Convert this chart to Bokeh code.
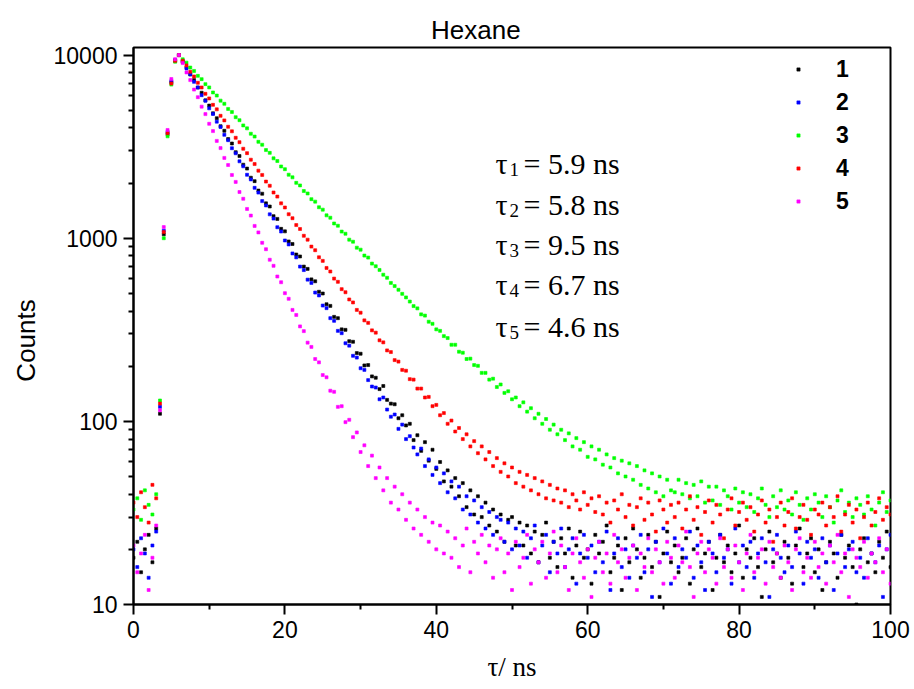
import numpy as np
from bokeh.plotting import figure
from bokeh.models import (FixedTicker, PrintfTickFormatter, Legend, LegendItem,
                          Label, Range1d)
from bokeh.embed import file_html
from bokeh.resources import INLINE

# ---------------- data ----------------
# detector channels, 0.5 ns apart, 0 .. 100 ns
time_ns = np.arange(0, 100.001, 0.5)

counts_1 = [18, 22, 15, 20, 24, 17, 26,
            110, 1050, 3700, 7100, 9300, 10000,
            9190, 8570, 7840, 7300, 6650, 6230, 5660, 5300, 4810, 4520,
            4090, 3860, 3480, 3290, 2950, 2810, 2520, 2400, 2140, 2050,
            1820, 1750, 1550, 1490, 1320, 1275, 1125, 1090, 960, 930,
            815, 795, 700, 680, 596, 582, 510, 499, 436, 427,
            372, 366, 318, 316, 274, 272, 236, 234, 202, 203,
            176, 173, 150, 156, 131, 125, 124, 104, 108, 95,
            97, 79, 84, 69, 77, 61, 70, 55, 60, 47,
            54, 44, 49, 39, 46, 34, 42, 31, 39, 30,
            36, 27, 33, 25, 31, 22, 29, 30, 21, 28,
            21, 27, 19, 25, 17, 24, 28, 18, 22, 16,
            23, 19, 26, 14, 21, 25, 18, 20, 13, 24,
            19, 22, 27, 15, 18, 21, 12, 23, 17, 26,
            20, 14, 18, 24, 16, 22, 11, 19, 25, 17,
            21, 15, 18, 23, 13, 20, 26, 16, 19, 22,
            12, 18, 24, 17, 21, 15, 19, 27, 14, 20,
            18, 23, 16, 11, 20, 25, 17, 19, 14, 22,
            18, 13, 21, 26, 16, 19, 23, 15, 20, 12,
            17, 22, 19, 14, 24, 18, 21, 16, 10, 20,
            23, 17, 19, 15, 22, 18, 25, 16]

counts_2 = [20, 16, 23, 19, 14, 21, 25,
            120, 1100, 3800, 7200, 9400, 10000,
            9260, 8440, 7850, 7140, 6650, 6040, 5630, 5120, 4770, 4330,
            4050, 3670, 3430, 3100, 2910, 2630, 2470, 2220, 2095, 1885,
            1775, 1595, 1510, 1350, 1280, 1148, 1088, 972, 925, 826,
            786, 700, 670, 594, 570, 505, 487, 429, 415, 366,
            354, 312, 303, 267, 259, 228, 223, 195, 191, 168,
            155, 153, 132, 135, 116, 106, 109, 91, 96, 80,
            83, 72, 66, 71, 57, 62, 51, 56, 46, 52,
            41, 47, 38, 44, 33, 39, 31, 37, 28, 34,
            26, 32, 24, 30, 29, 22, 28, 20, 26, 21,
            25, 18, 23, 27, 17, 21, 24, 15, 22, 19,
            26, 16, 20, 23, 13, 19, 24, 18, 21, 15,
            22, 17, 25, 12, 19, 23, 16, 20, 14, 21,
            18, 24, 15, 20, 11, 22, 17, 26, 19, 13,
            23, 16, 20, 18, 25, 14, 21, 17, 12, 22,
            19, 15, 24, 18, 20, 13, 26, 17, 21, 16,
            22, 14, 19, 23, 17, 11, 20, 24, 18, 15,
            21, 16, 25, 19, 13, 22, 18, 20, 14, 23,
            17, 21, 12, 19, 24, 16, 20, 22, 15, 18,
            14, 23, 19, 17, 21, 11, 20, 24]

counts_3 = [33, 38, 29, 42, 35, 31, 40,
            130, 1000, 3600, 6900, 9200, 10000,
            9480, 9090, 8550, 8190, 7700, 7390, 6940, 6660, 6250, 6010,
            5640, 5420, 5080, 4890, 4580, 4410, 4130, 3980, 3720, 3590,
            3360, 3240, 3030, 2925, 2730, 2640, 2465, 2382, 2222, 2150,
            2006, 1942, 1810, 1755, 1634, 1584, 1476, 1432, 1333, 1294,
            1204, 1170, 1087, 1058, 982, 957, 888, 866, 804, 784,
            727, 703, 671, 632, 608, 570, 548, 523, 497, 475,
            451, 426, 414, 384, 378, 350, 341, 318, 312, 292,
            285, 262, 262, 240, 237, 219, 220, 203, 201, 184,
            184, 169, 171, 154, 159, 143, 146, 132, 135, 121,
            127, 113, 118, 104, 110, 97, 103, 90, 96, 85,
            90, 79, 86, 73, 81, 70, 77, 64, 73, 62,
            70, 58, 66, 56, 63, 52, 61, 50, 59, 48,
            57, 45, 54, 43, 52, 41, 50, 39, 48, 42,
            41, 48, 40, 46, 38, 45, 39, 47, 36, 44,
            37, 44, 35, 42, 39, 33, 43, 36, 41, 34,
            40, 32, 38, 43, 35, 30, 39, 34, 42, 33,
            37, 31, 41, 35, 29, 38, 33, 40, 36, 30,
            39, 34, 28, 37, 42, 32, 36, 30, 38, 35,
            31, 39, 33, 27, 36, 41, 32, 37]

counts_4 = [36, 30, 41, 34, 28, 45, 38,
            125, 1080, 3750, 7000, 9300, 10000,
            9310, 8780, 8110, 7640, 7060, 6655, 6145, 5800, 5350, 5055,
            4660, 4400, 4060, 3835, 3535, 3345, 3080, 2915, 2684, 2541,
            2338, 2216, 2038, 1934, 1777, 1688, 1550, 1472, 1352, 1286,
            1180, 1123, 1031, 982, 900, 860, 787, 752, 688, 658,
            602, 578, 527, 507, 463, 446, 406, 392, 356, 345,
            314, 305, 277, 270, 244, 239, 216, 212, 191, 189,
            170, 169, 151, 151, 135, 136, 121, 123, 108, 111,
            97, 101, 88, 92, 80, 85, 73, 78, 67, 73,
            62, 68, 57, 63, 53, 59, 50, 56, 46, 53,
            44, 51, 42, 49, 40, 47, 38, 45, 37, 43,
            36, 42, 34, 40, 37, 33, 41, 35, 38, 32,
            39, 31, 36, 28, 37, 33, 40, 30, 35, 27,
            34, 38, 29, 36, 31, 25, 37, 33, 28, 35,
            30, 36, 26, 33, 39, 29, 34, 24, 32, 37,
            28, 35, 31, 23, 33, 38, 27, 32, 36, 29,
            34, 25, 31, 37, 28, 33, 22, 30, 36, 27,
            32, 38, 26, 30, 35, 29, 24, 33, 31, 36,
            27, 34, 30, 39, 25, 31, 35, 28, 33, 23,
            30, 36, 27, 32, 38, 29, 34, 31]

counts_5 = [21, 15, 19, 24, 12, 18, 27,
            115, 1150, 3900, 7400, 9500, 10000,
            9040, 8040, 7300, 6480, 5890, 5230, 4760, 4215, 3845, 3400,
            3105, 2745, 2510, 2215, 2030, 1788, 1642, 1445, 1329, 1167,
            1076, 944, 871, 763, 707, 618, 575, 501, 467, 406,
            381, 330, 311, 269, 255, 219, 210, 179, 174, 147,
            145, 120, 121, 99, 102, 82, 87, 68, 74, 57,
            65, 49, 56, 42, 49, 36, 44, 33, 40, 29,
            36, 26, 33, 24, 30, 22, 28, 20, 27, 19,
            25, 18, 23, 16, 21, 26, 15, 22, 19, 24,
            17, 21, 14, 20, 23, 15, 19, 12, 22, 16,
            18, 24, 13, 20, 17, 22, 14, 19, 25, 15,
            21, 16, 12, 19, 23, 17, 14, 20, 11, 18,
            22, 15, 19, 13, 24, 17, 20, 14, 18, 21,
            12, 19, 16, 23, 15, 20, 17, 13, 22, 18,
            14, 21, 17, 25, 16, 11, 19, 22, 15, 20,
            18, 13, 23, 16, 20, 14, 21, 17, 12, 19,
            24, 15, 18, 20, 13, 22, 16, 19, 14, 21,
            17, 12, 20, 23, 15, 18, 14, 22, 16, 19,
            13, 21, 17, 24, 15, 19, 11, 20, 18, 16,
            22, 14, 19, 17, 23, 15, 20, 13]

series_names = ["1", "2", "3", "4", "5"]
series_colors = ["#000000", "#0000FF", "#00FF00", "#FF0000", "#FF00FF"]
series_counts = [counts_1, counts_2, counts_3, counts_4, counts_5]

tau_index = ["1", "2", "3", "4", "5"]
tau_values = ["5.9", "5.8", "9.5", "6.7", "4.6"]

x_ticks = [0, 20, 40, 60, 80, 100]
x_minor = [10, 30, 50, 70, 90]
y_ticks = [10, 100, 1000, 10000]

title_text = "Hexane"
x_title = "τ/ ns"
y_title = "Counts"

# ---------------- layout ----------------
W, H = 914, 689
FL, FR, FT, FB = 133, 890, 47, 604
Y0, Y1 = 10, 11000
NBSP = "\u00a0"

def xd(px):
    return (px - FL) / (FR - FL) * 100.0

def yd(py):
    return 10 ** (np.log10(Y0) + (FB - py) / (FB - FT) * (np.log10(Y1) - np.log10(Y0)))

p = figure(width=W, height=H, x_range=Range1d(0, 100), y_range=Range1d(Y0, Y1),
           y_axis_type="log", output_backend="svg", toolbar_location=None,
           min_border_left=FL, min_border_right=W - FR,
           min_border_top=FT, min_border_bottom=H - FB)
p.xgrid.visible = False
p.ygrid.visible = False
p.outline_line_color = "black"
p.outline_line_width = 2
p.background_fill_color = "white"
p.border_fill_color = "white"

# title sits left of the frame centre: pad with trailing no-break spaces
p.title.text = title_text + NBSP * 10
p.title.align = "center"
p.title.standoff = 6
p.title.text_font = "Liberation Sans"
p.title.text_font_size = "26px"
p.title.text_font_style = "normal"
p.title.text_color = "black"

y_minor = [m * 10 ** k for k in range(1, 4) for m in range(2, 10)]
p.xaxis.ticker = FixedTicker(ticks=x_ticks, minor_ticks=x_minor)
p.yaxis.ticker = FixedTicker(ticks=y_ticks, minor_ticks=y_minor)
p.yaxis.formatter = PrintfTickFormatter(format="%d")

for ax in (p.xaxis[0], p.yaxis[0]):
    ax.axis_line_width = 2
    ax.major_tick_line_width = 2
    ax.minor_tick_line_width = 2
    ax.major_tick_out = 10
    ax.major_tick_in = 0
    ax.minor_tick_out = 5
    ax.minor_tick_in = 0
    ax.major_label_text_font = "Liberation Sans"
    ax.major_label_text_font_size = "23px"
    ax.major_label_text_color = "black"
    ax.major_label_standoff = 6

p.yaxis.axis_label = y_title + NBSP * 4
p.yaxis.axis_label_text_font = "Liberation Sans"
p.yaxis.axis_label_text_font_size = "26px"
p.yaxis.axis_label_text_font_style = "normal"
p.yaxis.axis_label_text_color = "black"
p.yaxis.axis_label_standoff = 10

p.xaxis.axis_label = x_title
p.xaxis.axis_label_text_font = "Liberation Serif"
p.xaxis.axis_label_text_font_size = "27px"
p.xaxis.axis_label_text_font_style = "normal"
p.xaxis.axis_label_text_color = "black"
p.xaxis.axis_label_standoff = 11

renderers = []
for name, col, vals in zip(series_names, series_colors, series_counts):
    r = p.scatter(time_ns, vals, marker="square", size=3, fill_color=col,
                  line_color=col, line_width=0.6)
    renderers.append(r)

legend = Legend(items=[LegendItem(label=n, renderers=[r]) for n, r in zip(series_names, renderers)],
                location=(661, 389))
legend.label_text_font = "Liberation Sans"
legend.label_text_font_style = "bold"
legend.label_text_font_size = "23px"
legend.label_text_color = "black"
legend.glyph_width = 8
legend.glyph_height = 28
legend.label_height = 28
legend.spacing = 5
legend.padding = 0
legend.margin = 0
legend.label_standoff = 34
legend.border_line_color = None
legend.background_fill_alpha = 0
p.add_layout(legend)

# lifetime annotations
baselines = [163, 203.5, 244, 284, 326]
for k, (idx, val) in enumerate(zip(tau_index, tau_values)):
    by = baselines[k]
    p.add_layout(Label(x=xd(495), y=yd(by), text="τ", text_font="Liberation Serif",
                       text_font_size="30px", text_baseline="alphabetic", text_color="black"))
    p.add_layout(Label(x=xd(509), y=yd(by + 6), text=idx, text_font="Liberation Serif",
                       text_font_size="19px", text_baseline="alphabetic", text_color="black"))
    p.add_layout(Label(x=xd(523), y=yd(by), text="= " + val + " ns", text_font="Liberation Serif",
                       text_font_size="30px", text_baseline="alphabetic", text_color="black"))

open("out.html", "w").write(file_html(p, INLINE))
